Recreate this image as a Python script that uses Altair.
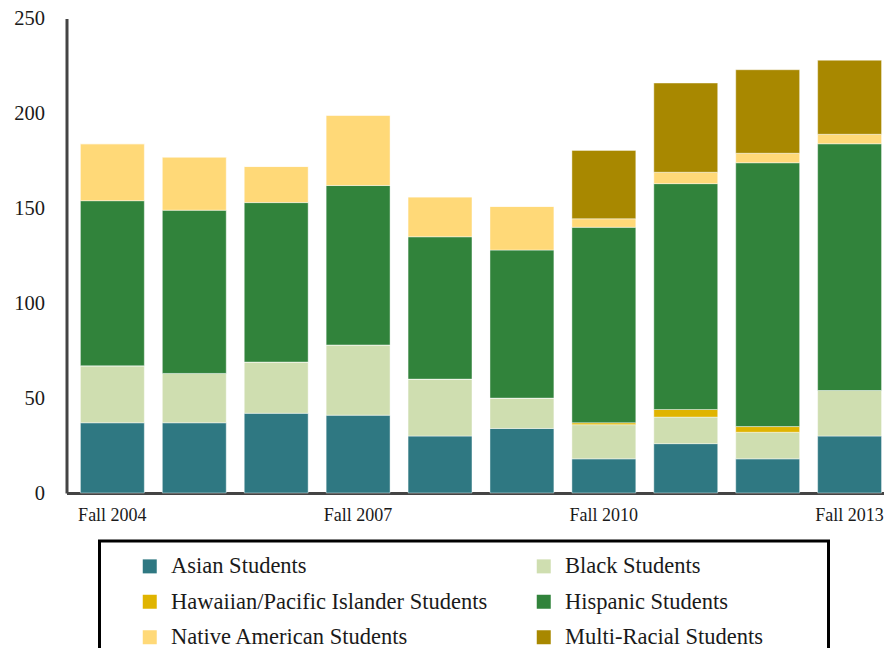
import altair as alt
import pandas as pd

terms = ["Fall 2004", "Fall 2005", "Fall 2006", "Fall 2007", "Fall 2008",
         "Fall 2009", "Fall 2010", "Fall 2011", "Fall 2012", "Fall 2013"]
groups = ["Asian Students", "Black Students", "Hawaiian/Pacific Islander Students",
          "Hispanic Students", "Native American Students", "Multi-Racial Students"]
colors = ["#2F7882", "#CFDEB0", "#E0B400", "#31833B", "#FFD978", "#A88800"]

asian = [37, 37, 42, 41, 30, 34, 18, 26, 18, 30]
black = [30, 26, 27, 37, 30, 16, 18, 14, 14, 24]
hawaiian = [0, 0, 0, 0, 0, 0, 1, 4, 3, 0]
hispanic = [87, 86, 84, 84, 75, 78, 103, 119, 139, 130]
native = [30, 28, 19, 37, 21, 23, 4.5, 6, 5, 5]
multi = [0, 0, 0, 0, 0, 0, 36, 47, 44, 39]

series = [asian, black, hawaiian, hispanic, native, multi]
rows = []
for gi, (g, vals) in enumerate(zip(groups, series)):
    for t, v in zip(terms, vals):
        rows.append({"term": t, "group": g, "order": gi, "value": v})
df = pd.DataFrame(rows)

FONT = "Liberation Serif"
PAD_RIGHT = "\u00a0" * 9 + "\u200b"

chart = alt.Chart(df).mark_bar(stroke="white", strokeWidth=0.6, strokeOpacity=0.7).encode(
    x=alt.X("term:N", sort=terms, title=None,
            scale=alt.Scale(paddingInner=0.22, paddingOuter=0.1, align=0.85),
            axis=alt.Axis(values=["Fall 2004", "Fall 2007", "Fall 2010", "Fall 2013"],
                          labelAngle=0, ticks=False, labelPadding=13,
                          labelFontSize=18, labelFont=FONT, labelColor="#1a1a1a",
                          domainColor="#444444", domainWidth=3, grid=False)),
    y=alt.Y("value:Q", title=None, stack="zero",
            scale=alt.Scale(domain=[0, 250], nice=False),
            axis=alt.Axis(values=[0, 50, 100, 150, 200, 250], ticks=False, grid=False,
                          labelPadding=22, labelFontSize=20.5, labelFont=FONT,
                          labelColor="#1a1a1a", domainColor="#444444", domainWidth=3)),
    color=alt.Color("group:N", sort=groups,
                    scale=alt.Scale(domain=groups, range=colors),
                    legend=alt.Legend(
                        title="\u00a0\u200b", titleOrient="left", titlePadding=25, titleFontSize=1,
                        orient="none", legendX=33, legendY=522.5, columns=2,
                        direction="horizontal",
                        symbolType="square", symbolSize=196, symbolStrokeWidth=0,
                        labelFont=FONT, labelFontSize=22.5, labelColor="#1a1a1a",
                        labelOffset=10, rowPadding=12.5, columnPadding=45, padding=14,
                        labelLimit=600,
                        labelExpr="datum.label == 'Multi-Racial Students' ? datum.label + '" + PAD_RIGHT + "' : datum.label",
                        strokeColor="black")),
    order=alt.Order("order:Q", sort="ascending"),
).properties(
    width=817.5, height=474.5,
    autosize=alt.AutoSizeParams(type="none"),
    padding={"top": 10.5, "left": 58.5, "right": 0, "bottom": 155},
).configure_view(stroke=None).configure_legend(strokeWidth=3)

chart.save("out.html", embed_options={"renderer": "svg", "actions": False})
